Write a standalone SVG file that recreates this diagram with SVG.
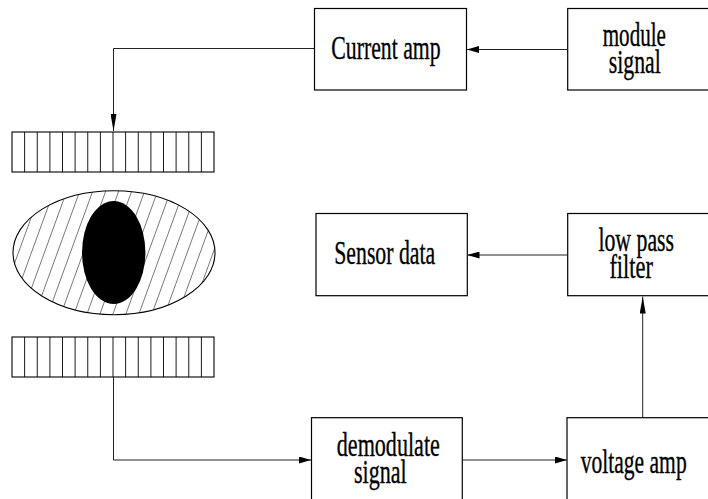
<svg xmlns="http://www.w3.org/2000/svg" width="708" height="499" viewBox="0 0 708 499">
  <style>
    .box { fill: #fff; stroke: #000; stroke-width: 1.2; }
    .lbl { font-family: "Liberation Serif", "Times New Roman", serif; font-size: 34px; fill: #000; stroke: #000; stroke-width: 0.35; text-anchor: middle; }
    .wire { fill: none; stroke: #222; stroke-width: 1; }
    .bar { fill: #fff; stroke: #000; stroke-width: 1.1; }
    .cell { stroke: #000; stroke-width: 0.9; }
  </style>
  <defs>
    <!-- flat arrowhead for horizontal runs -->
    <marker id="ah" viewBox="0 0 12 7" refX="12" refY="3.5" markerWidth="12" markerHeight="7" markerUnits="userSpaceOnUse" orient="auto">
      <path d="M0,0 L12,3.5 L0,7 Z" fill="#000"/>
    </marker>
    <!-- longer, narrower arrowhead for vertical runs -->
    <marker id="av" viewBox="0 0 17 6" refX="17" refY="3" markerWidth="17" markerHeight="6" markerUnits="userSpaceOnUse" orient="auto">
      <path d="M0,0 L17,3 L0,6 Z" fill="#000"/>
    </marker>
    <pattern id="hatch" width="12.2" height="40" patternUnits="userSpaceOnUse" patternTransform="translate(6,0) rotate(20)">
      <line x1="0" y1="-5" x2="0" y2="45" stroke="#000" stroke-width="1"/>
    </pattern>
    <g id="cells">
      <rect class="bar" x="12" y="0" width="202" height="40"/>
      <path class="cell" d="M24.6,0v40M37.25,0v40M49.9,0v40M62.5,0v40M75.1,0v40M87.75,0v40M100.4,0v40M113,0v40M125.6,0v40M138.25,0v40M150.9,0v40M163.5,0v40M176.1,0v40M188.75,0v40M201.4,0v40"/>
    </g>
  </defs>

  <!-- coil segments and sample -->
  <g id="coil-top">
    <use href="#cells" y="132"/>
  </g>
  <g id="sample">
    <ellipse cx="114" cy="252.7" rx="101" ry="62" fill="url(#hatch)" stroke="#000" stroke-width="1.1"/>
    <ellipse cx="113.7" cy="252.5" rx="31.7" ry="51.5" fill="#000"/>
  </g>
  <g id="coil-bottom">
    <use href="#cells" y="337"/>
  </g>

  <!-- processing blocks (labels set in a narrowed serif) -->
  <g id="current-amp">
    <rect class="box" x="314.5" y="8.5" width="152" height="81.5"/>
    <text class="lbl" transform="translate(386,59.3) scale(0.64,1)">Current amp</text>
  </g>
  <g id="module-signal">
    <rect class="box" x="567.7" y="8.5" width="160" height="81.5"/>
    <text class="lbl" transform="translate(634.3,45.7) scale(0.62,1)">module</text>
    <text class="lbl" transform="translate(634.8,73.3) scale(0.64,1)">signal</text>
  </g>
  <g id="sensor-data">
    <rect class="box" x="316" y="213.5" width="151.3" height="82.2"/>
    <text class="lbl" transform="translate(384.7,264.3) scale(0.64,1)">Sensor data</text>
  </g>
  <g id="low-pass-filter">
    <rect class="box" x="567.7" y="213.5" width="160" height="82.2"/>
    <text class="lbl" transform="translate(636.2,250.7) scale(0.64,1)">low pass</text>
    <text class="lbl" transform="translate(631.2,278.3) scale(0.66,1)">filter</text>
  </g>
  <g id="demodulate-signal">
    <rect class="box" x="311.5" y="417.7" width="150.8" height="100"/>
    <text class="lbl" transform="translate(388.3,455.7) scale(0.65,1)">demodulate</text>
    <text class="lbl" transform="translate(380.3,483.3) scale(0.65,1)">signal</text>
  </g>
  <g id="voltage-amp">
    <rect class="box" x="567" y="417.7" width="160" height="100"/>
    <text class="lbl" transform="translate(633.7,472.5) scale(0.634,1)">voltage amp</text>
  </g>

  <!-- signal path -->
  <g id="connectors">
    <path class="wire" d="M567.7,49.5 H467" marker-end="url(#ah)"/>
    <path class="wire" d="M314.5,48.5 H113.5 V131" marker-end="url(#av)"/>
    <path class="wire" d="M113.5,377 V460 H311" marker-end="url(#ah)"/>
    <path class="wire" d="M462.3,460 H567" marker-end="url(#ah)"/>
    <path class="wire" d="M642.7,417.7 V296.5" marker-end="url(#av)"/>
    <path class="wire" d="M567.7,255 H467.5" marker-end="url(#ah)"/>
  </g>
</svg>
